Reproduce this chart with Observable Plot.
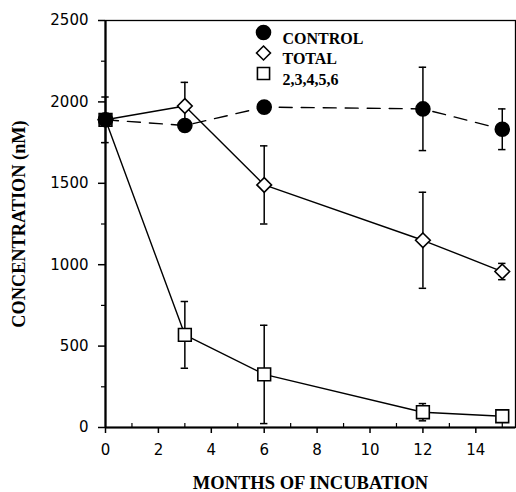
<!DOCTYPE html>
<html>
<head>
<meta charset="utf-8">
<script src="https://cdn.jsdelivr.net/npm/d3@7"></script>
<script src="https://cdn.jsdelivr.net/npm/@observablehq/plot@0.6"></script>
<style>
  html, body { margin: 0; padding: 0; background: white; }
  #chart { width: 516px; height: 492px; }
</style>
</head>
<body>
<div id="chart"></div>
<script>
// Data
const months = [0, 3, 6, 12, 15];
const control = [1890, 1855, 1968, 1957, 1832];
const controlErr = [140, 0, 0, 256, 125];
const total = [1890, 1975, 1490, 1150, 958];
const totalErr = [0, 145, 240, 295, 50];
const pcb = [1890, 569, 326, 94, 69];
const pcbErr = [0, 205, 302, 53, 0];
const seriesNames = ["CONTROL", "TOTAL", "2,3,4,5,6"];
const xTicks = [0, 2, 4, 6, 8, 10, 12, 14];
const xMinor = [1, 3, 5, 7, 9, 11, 13, 15];
const yTicks = [0, 500, 1000, 1500, 2000, 2500];
const yMinor = [250, 750, 1250, 1750, 2250];

const values = [control, total, pcb];
const errs = [controlErr, totalErr, pcbErr];
const rows = [];
seriesNames.forEach((s, i) => months.forEach((m, j) => rows.push({series: s, month: m, value: values[i][j], err: errs[i][j]})));
const of = s => rows.filter(d => d.series === s);
const withErr = rows.filter(d => d.err > 0);

const cap = 0.14;
const symbolOf = {"CONTROL": "circle", "TOTAL": "diamond2", "2,3,4,5,6": "square"};
const rOf = {"CONTROL": 7, "TOTAL": 6.6, "2,3,4,5,6": 7.2};
const fillOf = {"CONTROL": "black", "TOTAL": "white", "2,3,4,5,6": "white"};

const serif = "'Liberation Serif', 'Times New Roman', serif";

const legendMarks = seriesNames.flatMap((s, i) => [
  Plot.dot([s], {frameAnchor: "top-left", dx: 158, dy: 12 + i * 20.5, symbol: symbolOf[s], r: rOf[s] * (s === "CONTROL" ? 1 : 0.95), fill: fillOf[s], stroke: "black", strokeWidth: 1.6}),
  Plot.text([s], {frameAnchor: "top-left", dx: 177, dy: 12 + i * 20.5, text: d => d, textAnchor: "start", fontFamily: serif, fontWeight: "bold", fontSize: 16, fill: "black"})
]);

const chart = Plot.plot({
  width: 516,
  height: 492,
  marginLeft: 105,
  marginRight: 1,
  marginTop: 20,
  marginBottom: 65,
  style: {fontFamily: "'DejaVu Sans', sans-serif", fontSize: "15px", color: "black", background: "white"},
  x: {domain: [0, 15.5]},
  y: {domain: [0, 2500]},
  marks: [
    Plot.frame({stroke: "black", strokeWidth: 1.3}),
    Plot.axisX({ticks: xTicks, tickSize: 6, tickPadding: 11, tickFormat: d => String(d), label: null, strokeWidth: 1.5}),
    Plot.axisX({ticks: xMinor, tickSize: -4, tickFormat: () => "", label: null, strokeWidth: 1.2}),
    Plot.axisY({ticks: yTicks, tickSize: 7, tickPadding: 10, tickFormat: d => String(d), label: null, strokeWidth: 1.5}),
    Plot.axisY({ticks: yMinor, tickSize: 4, tickFormat: () => "", label: null, strokeWidth: 1.2}),
    Plot.ruleX([0], {stroke: "black", strokeWidth: 2.2}),
    Plot.ruleY([0], {stroke: "black", strokeWidth: 2.2}),
    // error bars
    Plot.ruleX(withErr, {x: "month", y1: d => d.value - d.err, y2: d => d.value + d.err, stroke: "black", strokeWidth: 1.5}),
    Plot.ruleY(withErr, {y: d => d.value + d.err, x1: d => d.month - cap, x2: d => d.month + cap, stroke: "black", strokeWidth: 1.5}),
    Plot.ruleY(withErr, {y: d => d.value - d.err, x1: d => d.month - cap, x2: d => d.month + cap, stroke: "black", strokeWidth: 1.5}),
    // lines
    Plot.line(of("2,3,4,5,6"), {x: "month", y: "value", stroke: "black", strokeWidth: 1.4}),
    Plot.line(of("TOTAL"), {x: "month", y: "value", stroke: "black", strokeWidth: 1.4}),
    Plot.line(of("CONTROL"), {x: "month", y: "value", stroke: "black", strokeWidth: 1.4, strokeDasharray: "13,9"}),
    // symbols
    ...["2,3,4,5,6", "TOTAL", "CONTROL"].map(s => Plot.dot(of(s), {x: "month", y: "value", symbol: symbolOf[s], r: rOf[s], fill: fillOf[s], stroke: "black", strokeWidth: 1.6})),
    ...legendMarks,
    // axis titles
    Plot.text(["MONTHS OF INCUBATION"], {frameAnchor: "bottom", dy: 61, text: d => d, fontFamily: serif, fontWeight: "bold", fontSize: 18.5, fill: "black"}),
    Plot.text(["CONCENTRATION (nM)"], {frameAnchor: "left", dx: -86, rotate: -90, textAnchor: "middle", text: d => d, fontFamily: serif, fontWeight: "bold", fontSize: 18.3, fill: "black"})
  ]
});
document.getElementById("chart").appendChild(chart);
</script>
</body>
</html>
